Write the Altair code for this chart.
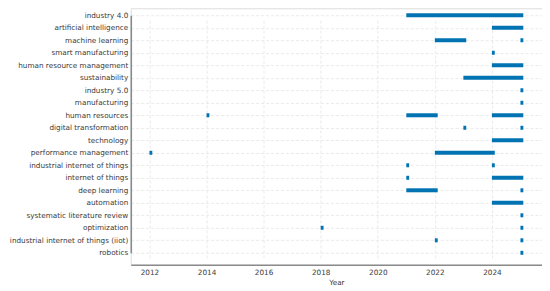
import altair as alt
import pandas as pd

keywords = [
    "industry 4.0", "artificial intelligence", "machine learning", "smart manufacturing",
    "human resource management", "sustainability", "industry 5.0", "manufacturing",
    "human resources", "digital transformation", "technology", "performance management",
    "industrial internet of things", "internet of things", "deep learning", "automation",
    "systematic literature review", "optimization", "industrial internet of things (iiot)",
    "robotics",
]

# (keyword, start year, end year) for each active span
span_keyword = [
    "industry 4.0", "artificial intelligence", "machine learning", "machine learning",
    "smart manufacturing", "human resource management", "sustainability", "industry 5.0",
    "manufacturing", "human resources", "human resources", "human resources",
    "digital transformation", "digital transformation", "technology",
    "performance management", "performance management",
    "industrial internet of things", "industrial internet of things",
    "internet of things", "internet of things", "deep learning", "deep learning",
    "automation", "systematic literature review", "optimization", "optimization",
    "industrial internet of things (iiot)", "industrial internet of things (iiot)",
    "robotics",
]
span_start = [
    2021, 2024, 2022, 2025,
    2024, 2024, 2023, 2025,
    2025, 2014, 2021, 2024,
    2023, 2025, 2024,
    2012, 2022,
    2021, 2024,
    2021, 2024, 2021, 2025,
    2024, 2025, 2018, 2025,
    2022, 2025,
    2025,
]
span_end = [
    2025, 2025, 2023, 2025,
    2024, 2025, 2025, 2025,
    2025, 2014, 2022, 2025,
    2023, 2025, 2025,
    2012, 2024,
    2021, 2024,
    2021, 2025, 2022, 2025,
    2025, 2025, 2018, 2025,
    2022, 2025,
    2025,
]

df = pd.DataFrame({"keyword": span_keyword, "start": span_start, "end": span_end})
df["end_draw"] = df["end"] + 0.1

FONT = "DejaVu Sans"
TXT = "#3a3a3a"
FS = 7.3

chart = alt.Chart(df).mark_rule(strokeWidth=4, color="#0173b2", strokeCap="butt").encode(
    x=alt.X(
        "start:Q",
        title="Year",
        scale=alt.Scale(domain=[2011.345, 2025.755], nice=False, zero=False),
        axis=alt.Axis(
            values=[2012, 2014, 2016, 2018, 2020, 2022, 2024],
            format="d",
            grid=True,
            gridColor="#e4e4e4",
            gridDash=[3, 2],
            gridWidth=0.8,
            domainColor="#8a8a8a",
            domainWidth=1.6,
            ticks=False,
            labelPadding=4,
            labelFont=FONT,
            labelFontSize=FS,
            labelColor=TXT,
            titleFont=FONT,
            titleFontSize=FS,
            titleFontWeight="normal",
            titleColor=TXT,
            titlePadding=2,
        ),
    ),
    x2="end_draw:Q",
    y=alt.Y(
        "keyword:N",
        title=None,
        sort=keywords,
        scale=alt.Scale(type="point", domain=keywords, range=[7, 245], padding=0),
        axis=alt.Axis(
            grid=True,
            gridColor="#e4e4e4",
            gridDash=[3, 2],
            gridWidth=0.8,
            domainColor="#8a8a8a",
            domainWidth=1.6,
            ticks=False,
            labelPadding=3,
            labelFont=FONT,
            labelFontSize=FS,
            labelColor=TXT,
        ),
    ),
).properties(
    width=412,
    height=257,
    autosize=alt.AutoSizeParams(type="none"),
    padding={"left": 123, "top": 0, "right": 0, "bottom": 24},
).configure_view(stroke=None).configure(background="white")

chart.save("out.html", embed_options={"renderer": "svg", "actions": False})
